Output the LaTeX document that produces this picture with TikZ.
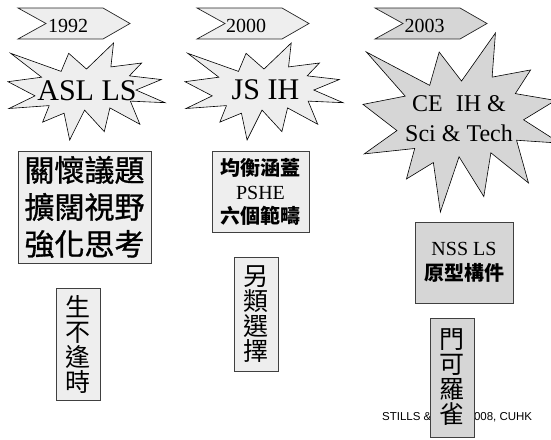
\documentclass[tikz,border=0pt]{standalone}
\usepackage{fontspec}
\setmainfont{Liberation Serif}
\newfontfamily\cjk{Noto Sans CJK TC}
\newfontfamily\cjkheavy{Noto Sans CJK TC}[FakeBold=1]
\newfontfamily\arialf{Liberation Sans}
\definecolor{lightg}{HTML}{EEEEEE}
\definecolor{darkg}{HTML}{D6D6D6}
\newcommand{\drawseal}[5]{%
  \begin{scope}[shift={(#1,#2)}, xscale=#3/216, yscale=#4/216]
    \draw[sealline, fill=#5] (108,58) -- (145.22,0) -- (141.55,53.25) -- (183.80,44.57) -- (167.02,73.15) -- (210.97,81.37) -- (176.07,104.75) -- (216,132.90) -- (168.37,129.42) -- (181.45,180.95) -- (140.20,144.57) -- (132.47,197.37) -- (105.32,149.35) -- (84.85,216) -- (77.15,156.27) -- (47.62,176.17) -- (56.67,139.37) -- (1.35,145.87) -- (37.22,117.75) -- (0,86.15) -- (46.27,76.17) -- (3.70,22.95) -- (73.12,63.20) -- (83.52,22.95) -- cycle;
  \end{scope}}
\newcommand{\drawchev}[2]{%
  \draw[chevline, fill=#2] (#1,8) -- (#1+85,8) -- (#1+112,23.5) -- (#1+85,39) -- (#1,39) -- (#1+28,23.5) -- cycle;}
\tikzset{
  sealline/.style={draw=black, line width=0.6pt, line join=miter},
  chevline/.style={draw=black!85, line width=0.7pt},
  yearlbl/.style={anchor=base, inner sep=0pt, font=\fontsize{20}{20}\selectfont},
  seallbl/.style={inner sep=0pt, align=center},
  infobox/.style={draw=black!75, line width=0.8pt, inner sep=0pt, align=center},
  vertbox/.style={infobox, minimum width=44pt, font=\cjk\fontsize{25}{25}\selectfont},
}
\begin{document}
\begin{tikzpicture}[x=1pt, y=-1pt]
  \useasboundingbox (0,0) rectangle (551,439);
  \clip (0,0) rectangle (551,439);
  % chevrons
  \drawchev{18}{lightg}
  \drawchev{197}{lightg}
  \drawchev{375}{darkg}
  \node[yearlbl] (y1) at (68,32) {1992};
  \node[yearlbl] (y2) at (246,32) {2000};
  \node[yearlbl] (y3) at (424.5,32) {2003};
  % explosions
  \drawseal{8}{43}{157}{97}{lightg}
  \drawseal{185}{43}{158}{97}{lightg}
  \drawseal{363}{33}{197}{179}{darkg}
  \node[seallbl, anchor=base, font=\fontsize{30}{30}\selectfont] (s1) at (87,100) {ASL LS};
  \node[seallbl, anchor=base, font=\fontsize{30}{30}\selectfont] (s2) at (265.5,99) {JS IH};
  \node[seallbl, font=\fontsize{24}{30}\selectfont] (s3) at (459,119) {CE\hspace{13pt}IH \&\\Sci \& Tech};
  % content boxes
  \node[infobox, fill=lightg, minimum width=133pt, minimum height=112pt,
        font=\cjkheavy\fontsize{30}{37}\selectfont] (b1) at (84.5,207) {關懷議題\\擴闊視野\\強化思考};
  \node[infobox, fill=lightg, minimum width=97pt, minimum height=81pt,
        font=\fontsize{20}{24}\selectfont] (b2) at (260.5,191.5) {{\cjk\bfseries 均衡涵蓋}\\PSHE\\{\cjk\bfseries 六個範疇}};
  \node[infobox, fill=darkg, minimum width=98pt, minimum height=81pt,
        font=\fontsize{20}{25}\selectfont] (b5) at (464,262.5) {NSS LS\\{\cjk\bfseries 原型構件}};
  \node[vertbox, fill=lightg, minimum height=112pt] (v1) at (78,344) {生\\不\\逢\\時};
  \node[vertbox, fill=lightg, minimum height=114pt] (v2) at (256,314) {另\\類\\選\\擇};
  % footer, partly hidden by the last box
  \node[anchor=base west, inner sep=0pt, font=\arialf\fontsize{11.5}{12}\selectfont] (foot) at (382,420) {STILLS \&\hspace{33pt} 2008, CUHK};
  \node[vertbox, fill=darkg, minimum height=119pt] (v3) at (452,377.5) {門\\可\\羅\\雀};
\end{tikzpicture}
\end{document}
